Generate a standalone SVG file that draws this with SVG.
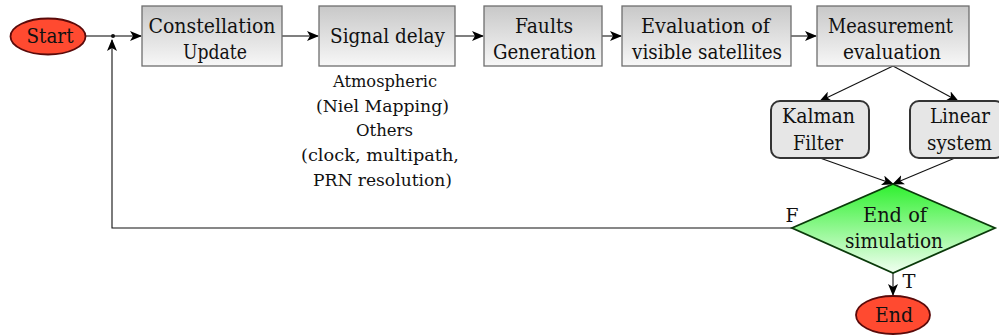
<svg xmlns="http://www.w3.org/2000/svg" width="999" height="335" viewBox="0 0 999 335">
<defs>
<linearGradient id="gbox" x1="0" y1="0" x2="0" y2="1">
<stop offset="0" stop-color="#c8c8c8"/>
<stop offset="1" stop-color="#f7f7f7"/>
</linearGradient>
<linearGradient id="ggreen" x1="0" y1="0" x2="0" y2="1">
<stop offset="0" stop-color="#2ef02e"/>
<stop offset="1" stop-color="#f2fff2"/>
</linearGradient>
<marker id="arr" viewBox="0 0 12 10" refX="11" refY="5" markerWidth="12" markerHeight="10" markerUnits="userSpaceOnUse" orient="auto">
<path d="M0,0 L12,5 L0,10 L3,5 z" fill="#000"/>
</marker>
</defs>
<style>
text{font-family:"DejaVu Serif",serif;fill:#111;text-anchor:middle}
.t{font-size:20.5px}
.s{font-size:16.5px}
.box{fill:url(#gbox);stroke:#6e6e6e;stroke-width:1.3}
.rbox{fill:#e6e6e6;stroke:#333;stroke-width:2}
.term{fill:#ff4a30;stroke:#5a0a0a;stroke-width:1.8}
.gl{stroke:#555;stroke-width:1.5;fill:none}
.bl{stroke:#111;stroke-width:1.1;fill:none}
</style>
<g id="connectors">
<line class="gl" x1="86" y1="36" x2="141" y2="36" marker-end="url(#arr)"/>
<circle cx="113" cy="36" r="2" fill="#111"/>
<line class="gl" x1="282" y1="36" x2="318" y2="36" marker-end="url(#arr)"/>
<line class="gl" x1="455" y1="36" x2="483" y2="36" marker-end="url(#arr)"/>
<line class="gl" x1="602" y1="36" x2="621" y2="36" marker-end="url(#arr)"/>
<line class="gl" x1="791" y1="36" x2="816" y2="36" marker-end="url(#arr)"/>
<line class="bl" x1="893" y1="66" x2="820" y2="101" marker-end="url(#arr)"/>
<line class="bl" x1="893" y1="66" x2="958" y2="101" marker-end="url(#arr)"/>
<line class="bl" x1="820" y1="158" x2="893" y2="184" marker-end="url(#arr)"/>
<line class="bl" x1="955" y1="158" x2="893" y2="184" marker-end="url(#arr)"/>
<line class="bl" x1="893" y1="273" x2="893" y2="295" marker-end="url(#arr)"/>
<polyline class="bl" points="792,228 112,228 112,40" marker-end="url(#arr)"/>
<text x="792" y="222" style="font-size:18px" textLength="13" lengthAdjust="spacingAndGlyphs">F</text>
<text x="909" y="288" style="font-size:18px" textLength="13" lengthAdjust="spacingAndGlyphs">T</text>
</g>
<g id="start">
<ellipse class="term" cx="48" cy="36.5" rx="37.5" ry="18"/>
<text class="t" x="50" y="43" textLength="47" lengthAdjust="spacingAndGlyphs">Start</text>
</g>
<g id="constellation">
<rect class="box" x="142" y="6" width="140" height="60"/>
<text class="t" x="212" y="33" textLength="127" lengthAdjust="spacingAndGlyphs">Constellation</text>
<text class="t" x="215" y="59" textLength="64" lengthAdjust="spacingAndGlyphs">Update</text>
</g>
<g id="signal">
<rect class="box" x="319" y="6" width="136" height="60"/>
<text class="t" x="387.5" y="43" textLength="115" lengthAdjust="spacingAndGlyphs">Signal delay</text>
</g>
<g id="signal-note">
<text class="s" x="385" y="87" textLength="104" lengthAdjust="spacingAndGlyphs">Atmospheric</text>
<text class="s" x="382.5" y="112" textLength="133" lengthAdjust="spacingAndGlyphs">(Niel Mapping)</text>
<text class="s" x="384.5" y="136" textLength="57" lengthAdjust="spacingAndGlyphs">Others</text>
<text class="s" x="380" y="161" textLength="158" lengthAdjust="spacingAndGlyphs">(clock, multipath,</text>
<text class="s" x="382.5" y="186" textLength="139" lengthAdjust="spacingAndGlyphs">PRN resolution)</text>
</g>
<g id="faults">
<rect class="box" x="484" y="6" width="118" height="60"/>
<text class="t" x="544" y="33" textLength="58" lengthAdjust="spacingAndGlyphs">Faults</text>
<text class="t" x="544.5" y="59" textLength="103" lengthAdjust="spacingAndGlyphs">Generation</text>
</g>
<g id="visible">
<rect class="box" x="622" y="6" width="169" height="60"/>
<text class="t" x="705.5" y="33" textLength="129" lengthAdjust="spacingAndGlyphs">Evaluation of</text>
<text class="t" x="707" y="59" textLength="150" lengthAdjust="spacingAndGlyphs">visible satellites</text>
</g>
<g id="measurement">
<rect class="box" x="817" y="6" width="152" height="60"/>
<text class="t" x="890.5" y="33" textLength="125" lengthAdjust="spacingAndGlyphs">Measurement</text>
<text class="t" x="892" y="59" textLength="98" lengthAdjust="spacingAndGlyphs">evaluation</text>
</g>
<g id="kalman">
<rect class="rbox" x="771" y="101" width="98" height="57" rx="9"/>
<text class="t" x="818.5" y="123" textLength="73" lengthAdjust="spacingAndGlyphs">Kalman</text>
<text class="t" x="818" y="150" textLength="50" lengthAdjust="spacingAndGlyphs">Filter</text>
</g>
<g id="linear">
<rect class="rbox" x="910" y="101" width="94" height="57" rx="9"/>
<text class="t" x="960" y="123" textLength="60" lengthAdjust="spacingAndGlyphs">Linear</text>
<text class="t" x="959.5" y="150" textLength="65" lengthAdjust="spacingAndGlyphs">system</text>
</g>
<g id="end-of-sim">
<polygon points="893,184 995,228 893,273 792,228" fill="url(#ggreen)" stroke="#0a3a0a" stroke-width="1.8"/>
<text class="t" x="895" y="222" textLength="64" lengthAdjust="spacingAndGlyphs">End of</text>
<text class="t" x="894" y="248" textLength="98" lengthAdjust="spacingAndGlyphs">simulation</text>
</g>
<g id="end">
<ellipse class="term" cx="893" cy="315" rx="37" ry="19"/>
<text class="t" x="894" y="322" textLength="38" lengthAdjust="spacingAndGlyphs">End</text>
</g>
</svg>
